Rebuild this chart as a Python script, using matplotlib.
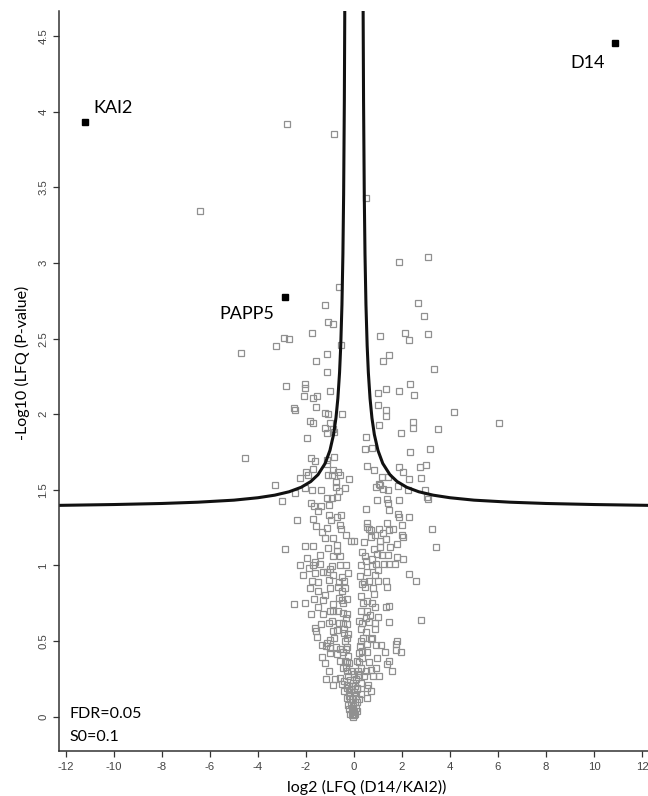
import matplotlib
matplotlib.use("Agg")
import matplotlib.pyplot as plt

# ---------------- data ----------------
gx = [-2.78, -6.40, -0.82, 0.51, 1.875, 3.10, -0.625, -1.21, -1.10, -0.86, -1.74, -2.92, -2.72, -3.26, -4.70,
      -1.57, -1.125, -1.125, -2.83, -2.03, -2.03, -2.10, -1.72, -1.55, 2.68, 2.92, 2.11, 2.28, 3.10, 1.08,
      -0.54, 1.47, 1.21, 3.32, -0.99, 1.0, 1.35, 1.875, 2.33, 2.51,
      4.15, 6.04, 0.99, 1.35, 1.35, 1.05, 2.46, 2.46, 3.49, 1.97, 0.49, 0.45, 0.75, 2.32, 3.17, 0.53, 0.85,
      1.875, 2.03, 2.75, 3.0, 2.80, 1.17, 1.43, 2.30, 1.82, 1.10, 1.22, 2.97, 3.03, 0.92, 2.26, 1.40, 1.04,
      -2.51, -2.46, -1.58, -1.22, -1.07, -0.5, -1.83, -1.70, -1.0, -1.21, -0.86, -1.14, -0.82, -1.96, -4.54,
      -1.79, -1.625, -1.11, -0.82, -1.70, -1.14, -2.01, -1.90, -1.07, -0.86, -0.68, -2.24, -0.93, -0.57, -0.21,
      -0.75, -3.28, -2.45, -2.04, -1.75, -1.39, -0.75, -0.61, -0.375,
      -2.99, -1.80, -1.65, -1.39, -1.14, -0.92, -0.69, -1.03, -1.49, -2.39, -1.71, -1.03, -0.70, -0.53, -0.96,
      -1.57, -1.11, -0.57, -0.54, -1.33, -0.32, -1.19, -0.86, -0.11, -2.875, -2.05, -1.71, -1.07, -0.69, -0.72,
      -0.86, -0.58, -1.42, -1.94, -1.625, -1.70, -2.25, -1.40, -0.93, -0.58, -0.35, -1.89, -2.11, -1.31, -1.11,
      -1.0, -1.61, -0.86, -0.49, -1.75, -1.49, -0.64, -0.40, -1.05, -1.82, -1.5, -0.99, -0.67, -0.5, -2.49,
      -2.04, -1.65, -1.29, -1.21, -1.49, -0.89, -0.61, -0.49,
      0.94, 1.39, 1.43, 1.875, 3.08, 0.5, 1.47, 1.83, 1.89, 2.28, 0.56, 0.53, 0.625, 1.39, 1.99, 3.26, 0.72,
      1.04, 1.22, 1.46, 1.64, 0.69, 0.875, 1.35, 1.08, 2.03, 0.40, 3.43, 0.83, 1.5, 1.78, 0.35, 1.07, 0.45,
      0.5, 0.76, 0.97, 1.18, 1.43, 1.26, 1.47, 1.70, 1.80, 2.03, 0.76, 0.92, 1.0, 0.55, 0.86, 2.29, 2.58,
      0.25, 0.42, 0.64, 1.01, 1.35, 1.39, 0.45, 0.80, 0.83, 0.39, 0.53, 0.76, 1.32, 1.47, 0.86, 0.0, 1.99,
      -1.78, -1.31, -1.0, -0.86, -0.68, -0.44, -0.30, -1.39, -1.05, -0.93, -1.625, -1.58, -0.61, -0.44, -0.28,
      -0.89, -0.69, -0.42, -0.24, -0.83, -1.35, -1.17, -1.0, -0.75, -0.58, -0.30, -1.0, -0.69, -0.47, -1.35,
      -1.21, -0.58, -0.375, -0.22, -1.03, -0.47, -0.30, -1.17, -0.79, -0.58, -0.40, -0.86, -0.51, -0.30, -0.40,
      -0.20, -0.30, -0.17, -0.24, -0.10, -0.10, -1.11, -1.0, -1.53,
      0.21, 0.55, 0.49, 0.67, 1.0, 1.47, 2.78, 0.625, 0.86, 0.49, 0.86, 0.76, 0.28, 0.53, 0.69, 0.93, 1.11,
      1.80, 1.74, 1.74, 1.95, 1.29, 0.35, 0.53, 0.97, 0.14, 0.35, 0.625, 1.39, 1.46, 1.57, 0.28, 0.49, 0.69,
      0.90, 0.21, 0.42, 0.80, 1.04, 0.28, 0.58, 0.14, 0.53, 0.69, 0.28, 0.55, 0.14,
      -0.12, 0.02, 0.10, -0.18, -0.06, 0.05, -0.28, -0.12, 0.0, 0.10, 0.20, -0.22, -0.08, 0.04, -0.14, -0.04,
      0.08, -0.20, 0.02, -0.06, 0.06, -0.02, 0.0, -0.15, 0.12, -0.10, 0.12, -0.30,
      -0.35, -0.25, -0.32, -0.25, -0.38, -0.28, -0.40, -0.35, -0.45, -0.30, -0.38, -0.25,
      0.15, 0.22, 0.20, 0.25, 0.30, 0.35, 0.30, 0.28, 0.35, 0.30, 0.38, 0.18]
gy = [3.92, 3.345, 3.856, 3.43, 3.005, 3.04, 2.84, 2.72, 2.61, 2.60, 2.54, 2.505, 2.496, 2.45, 2.405,
      2.35, 2.40, 2.28, 2.185, 2.20, 2.175, 2.12, 2.11, 2.12, 2.735, 2.65, 2.54, 2.49, 2.53, 2.52,
      2.46, 2.39, 2.35, 2.30, 2.156, 2.14, 2.17, 2.156, 2.20, 2.126,
      2.013, 1.94, 2.06, 2.03, 1.99, 1.93, 1.95, 1.91, 1.90, 1.876, 1.85, 1.77, 1.78, 1.75, 1.77, 1.66, 1.63,
      1.65, 1.62, 1.65, 1.665, 1.58, 1.587, 1.583, 1.57, 1.524, 1.53, 1.504, 1.50, 1.45, 1.52, 1.50, 1.50, 1.54,
      2.04, 2.03, 2.05, 2.01, 2.0, 2.0, 1.955, 1.94, 1.94, 1.91, 1.90, 1.874, 1.88, 1.84, 1.713,
      1.71, 1.69, 1.70, 1.72, 1.64, 1.67, 1.62, 1.60, 1.60, 1.63, 1.62, 1.58, 1.60, 1.60, 1.57,
      1.555, 1.534, 1.48, 1.51, 1.50, 1.50, 1.52, 1.49, 1.51,
      1.425, 1.41, 1.395, 1.394, 1.445, 1.445, 1.45, 1.40, 1.36, 1.30, 1.31, 1.336, 1.323, 1.336, 1.30,
      1.26, 1.25, 1.27, 1.24, 1.22, 1.20, 1.18, 1.18, 1.16, 1.11, 1.127, 1.127, 1.114, 1.136, 1.096,
      1.063, 1.063, 1.07, 1.048, 1.02, 1.005, 1.0, 1.008, 0.999, 1.005, 1.005, 0.985, 0.937, 0.96, 0.957,
      0.977, 0.948, 0.939, 0.926, 0.895, 0.889, 0.889, 0.895, 0.904, 0.853, 0.83, 0.849, 0.86, 0.83, 0.745,
      0.75, 0.778, 0.772, 0.805, 0.728, 0.745, 0.783, 0.77,
      1.433, 1.44, 1.41, 1.433, 1.438, 1.374, 1.37, 1.34, 1.32, 1.32, 1.28, 1.257, 1.24, 1.28, 1.268, 1.24, 1.235,
      1.24, 1.213, 1.235, 1.24, 1.186, 1.20, 1.173, 1.164, 1.19, 1.153, 1.12, 1.107, 1.122, 1.142, 1.09, 1.12, 1.063,
      1.03, 1.04, 1.076, 1.07, 1.072, 1.012, 1.01, 1.01, 1.056, 1.04, 0.999, 1.012, 0.97, 0.96, 0.94, 0.944, 0.90,
      0.933, 0.889, 0.90, 0.895, 0.90, 0.856, 0.856, 0.849, 0.81, 0.754, 0.763, 0.754, 0.724, 0.73, 0.724, 1.164, 1.20,
      0.679, 0.679, 0.70, 0.70, 0.697, 0.686, 0.679, 0.613, 0.62, 0.634, 0.587, 0.565, 0.62, 0.62, 0.613,
      0.565, 0.575, 0.553, 0.546, 0.52, 0.476, 0.466, 0.454, 0.459, 0.45, 0.463, 0.42, 0.415, 0.43, 0.393,
      0.355, 0.366, 0.37, 0.355, 0.304, 0.322, 0.30, 0.25, 0.251, 0.256, 0.238, 0.208, 0.216, 0.212, 0.168,
      0.178, 0.124, 0.115, 0.08, 0.058, 0.013, 0.487, 0.509, 0.529,
      0.63, 0.70, 0.653, 0.67, 0.657, 0.626, 0.638, 0.626, 0.62, 0.56, 0.582, 0.52, 0.499, 0.48, 0.514, 0.476, 0.476,
      0.499, 0.48, 0.439, 0.426, 0.426, 0.437, 0.43, 0.388, 0.37, 0.388, 0.362, 0.349, 0.366, 0.304, 0.322, 0.304, 0.31,
      0.322, 0.278, 0.272, 0.267, 0.267, 0.223, 0.212, 0.19, 0.192, 0.172, 0.15, 0.124, 0.10,
      0.30, 0.28, 0.25, 0.24, 0.22, 0.20, 0.19, 0.18, 0.16, 0.14, 0.12, 0.14, 0.12, 0.10, 0.08, 0.07,
      0.06, 0.05, 0.04, 0.03, 0.02, 0.0, 0.01, 0.02, 0.04, 0.20, 0.18, 0.36,
      0.45, 0.40, 0.33, 0.27, 0.50, 0.52, 0.58, 0.65, 0.75, 0.78, 0.85, 0.95,
      0.30, 0.36, 0.42, 0.47, 0.58, 0.62, 0.70, 0.80, 0.88, 1.0, 0.52, 0.26]

hit_names = ["KAI2", "D14", "PAPP5"]
hit_x = [-11.21, 10.875, -2.875]
hit_y = [3.935, 4.458, 2.778]

# significance threshold curve (right branch); left branch mirrored
curve_x = [0.36, 0.38, 0.40, 0.43, 0.46, 0.50, 0.55, 0.60, 0.67, 0.75, 0.85, 1.0, 1.2, 1.5,
           1.8, 2.2, 2.7, 3.3, 4.0, 5.0, 6.5, 8.0, 10.0, 12.3]
curve_y = [5.875, 4.75, 4.075, 3.452, 3.06, 2.725, 2.455, 2.275, 2.105, 1.975, 1.866, 1.761, 1.675, 1.60,
           1.555, 1.517, 1.4875, 1.465, 1.448, 1.432, 1.4185, 1.410, 1.403, 1.3975]

xticks = [-12, -10, -8, -6, -4, -2, 0, 2, 4, 6, 8, 10, 12]
yticks = [0, 0.5, 1, 1.5, 2, 2.5, 3, 3.5, 4, 4.5]
ytick_labels = ["0", "0.5", "1", "1.5", "2", "2.5", "3", "3.5", "4", "4.5"]

# ---------------- plot ----------------
W, H = 648, 796
fig = plt.figure(figsize=(W / 100, H / 100), dpi=100)
ax = fig.add_axes([58.7 / W, (H - 750.7) / H, (W - 58.7) / W, (750.7 - 11) / H])

ax.plot(gx, gy, linestyle="none", marker="s", markersize=3.9, markerfacecolor="none",
        markeredgecolor="#909090", markeredgewidth=0.9)

ax.plot(curve_x, curve_y, color="#111111", linewidth=2.2, solid_capstyle="butt")
ax.plot([-v for v in curve_x], curve_y, color="#111111", linewidth=2.2, solid_capstyle="butt")

ax.plot(hit_x, hit_y, linestyle="none", marker="s", markersize=4.6, color="black")

offsets = {"KAI2": (9, 9, "left"), "D14": (-10, -25, "right"), "PAPP5": (-11, -22, "right")}
for n, x, y in zip(hit_names, hit_x, hit_y):
    dx, dy, ha = offsets[n]
    ax.annotate(n, (x, y), xytext=(dx, dy), textcoords="offset pixels", ha=ha, va="baseline",
                fontsize=13, family="Lato", color="black")

ax.text(0.019, 0.0438, "FDR=0.05", transform=ax.transAxes, fontsize=11.5, family="Lato",
        va="baseline", ha="left")
ax.text(0.019, 0.0135, "S0=0.1", transform=ax.transAxes, fontsize=11.5, family="Lato",
        va="baseline", ha="left")

ax.set_xlim(-12.3, 12.25)
ax.set_ylim(-0.225, 4.667)
ax.set_xticks(xticks)
ax.set_xticklabels([str(t) for t in xticks])
ax.set_yticks(yticks)
ax.set_yticklabels(ytick_labels, rotation=90, va="center")

for s in ["top", "right"]:
    ax.spines[s].set_visible(False)
for s in ["left", "bottom"]:
    ax.spines[s].set_color("#333333")
    ax.spines[s].set_linewidth(1.1)

ax.tick_params(axis="both", direction="out", length=4.5, width=0.9, color="#333333",
               labelsize=8.2, labelcolor="#444444")
ax.tick_params(axis="x", pad=3.5)
ax.tick_params(axis="y", pad=3)
for lab in ax.get_xticklabels() + ax.get_yticklabels():
    lab.set_family("Liberation Sans")

ax.set_xlabel("log2 (LFQ (D14/KAI2))", fontsize=11.5, family="Lato", labelpad=6, x=0.522)
ax.set_ylabel("-Log10 (LFQ (P-value)", fontsize=11.5, family="Lato", labelpad=6, y=0.524)

fig.savefig("out.png", dpi=100)
